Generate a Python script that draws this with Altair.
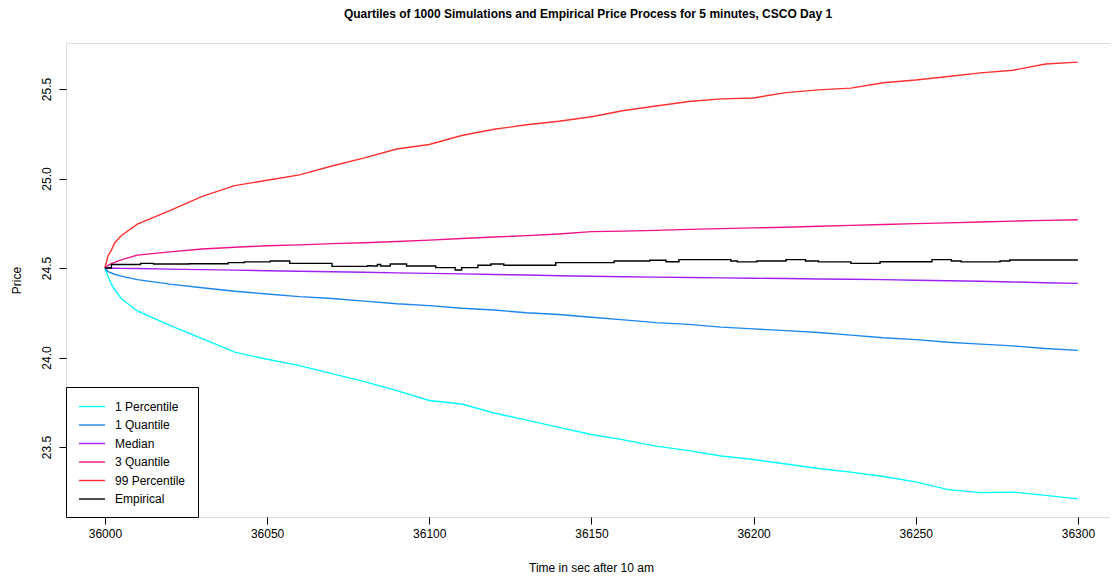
import altair as alt
import pandas as pd

# simulated quantile paths
times = [36000, 36001, 36002, 36003, 36005, 36010, 36020, 36030, 36040, 36050,
         36060, 36070, 36080, 36090, 36100, 36110, 36120, 36130, 36140, 36150,
         36160, 36170, 36180, 36190, 36200, 36210, 36220, 36230, 36240, 36250,
         36260, 36270, 36280, 36290, 36300]
p01 = [24.50, 24.45, 24.41, 24.38, 24.33, 24.26, 24.18, 24.105, 24.03, 23.99,
       23.955, 23.91, 23.865, 23.815, 23.76, 23.74, 23.69, 23.65, 23.61, 23.57,
       23.54, 23.505, 23.48, 23.45, 23.43, 23.405, 23.38, 23.36, 23.335, 23.305,
       23.262, 23.245, 23.248, 23.23, 23.21]
q1 = [24.50, 24.48, 24.472, 24.465, 24.455, 24.435, 24.41, 24.39, 24.37, 24.355,
      24.34, 24.33, 24.315, 24.30, 24.29, 24.275, 24.265, 24.25, 24.24, 24.225,
      24.21, 24.195, 24.185, 24.17, 24.16, 24.15, 24.14, 24.125, 24.11, 24.10,
      24.085, 24.075, 24.065, 24.05, 24.04]
med = [24.50, 24.50, 24.499, 24.499, 24.498, 24.497, 24.494, 24.491, 24.488, 24.485,
       24.482, 24.479, 24.476, 24.473, 24.470, 24.467, 24.464, 24.461, 24.457, 24.454,
       24.451, 24.449, 24.447, 24.445, 24.443, 24.441, 24.439, 24.437, 24.435, 24.432,
       24.429, 24.426, 24.422, 24.418, 24.414]
q3 = [24.50, 24.515, 24.525, 24.531, 24.545, 24.572, 24.59, 24.606, 24.616, 24.624,
      24.629, 24.636, 24.641, 24.648, 24.656, 24.665, 24.673, 24.681, 24.69, 24.703,
      24.706, 24.71, 24.716, 24.72, 24.724, 24.728, 24.733, 24.738, 24.743, 24.748,
      24.752, 24.757, 24.762, 24.766, 24.77]
p99 = [24.50, 24.57, 24.60, 24.64, 24.68, 24.745, 24.82, 24.90, 24.96, 24.99,
       25.02, 25.07, 25.115, 25.165, 25.19, 25.24, 25.275, 25.30, 25.32, 25.345,
       25.38, 25.405, 25.43, 25.445, 25.45, 25.48, 25.495, 25.505, 25.535, 25.55,
       25.57, 25.59, 25.605, 25.64, 25.65]

# empirical price path (step changes)
emp_t = [36000, 36002, 36011, 36015, 36026, 36038, 36043, 36051, 36057, 36070,
         36081, 36082, 36084, 36085, 36088, 36093, 36102, 36108, 36110, 36115,
         36119, 36123, 36139, 36157, 36168, 36173, 36177, 36193, 36195, 36201,
         36210, 36216, 36220, 36230, 36239, 36255, 36261, 36264, 36276, 36279, 36300]
emp_p = [24.50, 24.52, 24.526, 24.522, 24.524, 24.53, 24.534, 24.539, 24.526, 24.509,
         24.513, 24.511, 24.52, 24.511, 24.522, 24.511, 24.502, 24.489, 24.502, 24.515,
         24.522, 24.515, 24.53, 24.539, 24.543, 24.535, 24.547, 24.539, 24.534, 24.539,
         24.547, 24.539, 24.534, 24.526, 24.535, 24.547, 24.539, 24.534, 24.539, 24.545, 24.545]

names = ["1 Percentile", "1 Quantile", "Median", "3 Quantile", "99 Percentile", "Empirical"]
colors = ["#00FFFF", "#1C86EE", "#A020F0", "#EE1289", "#FF3030", "#000000"]
widths = [1.4, 1.4, 1.4, 1.4, 1.4, 2.6]

x_ticks = [36000, 36050, 36100, 36150, 36200, 36250, 36300]
y_ticks = [23.5, 24.0, 24.5, 25.0, 25.5]

rows = []
for nm, vals in zip(names[:5], [p01, q1, med, q3, p99]):
    for t, v in zip(times, vals):
        rows.append({"t": t, "price": v, "series": nm})
sim = pd.DataFrame(rows)
emp = pd.DataFrame({"t": emp_t, "price": emp_p, "series": "Empirical"})

FONT = "Liberation Sans"

legend = alt.Legend(
    orient="none", legendX=0, legendY=344, title=None,
    strokeColor="black", fillColor="white", padding=12, cornerRadius=0,
    labelFont=FONT, labelFontSize=12, labelColor="black", labelOffset=22,
    symbolType="M-1,0H3", symbolSize=169, rowPadding=4.5,
)

xenc = alt.X("t:Q", scale=alt.Scale(domain=[35988, 36309.9], nice=False, zero=False),
             axis=alt.Axis(values=x_ticks, format="d", title="Time in sec after 10 am",
                           grid=False, domain=False, tickSize=7, tickColor="black",
                           labelFont=FONT, labelFontSize=12, labelColor="black",
                           labelBaseline="alphabetic", labelPadding=13,
                           titleFont=FONT, titleFontSize=12, titleFontWeight="normal",
                           titleColor="black", titleBaseline="alphabetic",
                           titleY=54, titleX=525))
yenc = alt.Y("price:Q", scale=alt.Scale(domain=[23.109, 25.757], nice=False, zero=False),
             axis=alt.Axis(values=y_ticks, format=".1f", title="Price",
                           grid=False, domain=False, tickSize=7, tickColor="black",
                           labelFont=FONT, labelFontSize=12, labelColor="black",
                           labelAngle=-90, labelAlign="center", labelBaseline="alphabetic",
                           labelPadding=9,
                           titleFont=FONT, titleFontSize=12, titleFontWeight="normal",
                           titleColor="black", titleBaseline="alphabetic",
                           titleAngle=-90, titleX=-46, titleY=237))
cenc = alt.Color("series:N", scale=alt.Scale(domain=names, range=colors), legend=legend)
wenc = alt.StrokeWidth("series:N", scale=alt.Scale(domain=names, range=widths), legend=legend)

sim_layer = alt.Chart(sim).mark_line().encode(x=xenc, y=yenc, color=cenc, strokeWidth=wenc,
                                              detail="series:N")
emp_layer = alt.Chart(emp).mark_line(interpolate="step-after").encode(
    x=xenc, y=yenc, color=cenc, strokeWidth=wenc)

chart = alt.layer(sim_layer, emp_layer).properties(
    width=1044, height=474,
    title=alt.TitleParams(
        "Quartiles of 1000 Simulations and Empirical Price Process for 5 minutes, CSCO Day 1",
        font=FONT, fontSize=12, fontWeight="bold", color="black", anchor="middle",
        frame="group", baseline="alphabetic", offset=13),
    autosize="none",
    padding={"left": 58, "top": 35, "right": 0, "bottom": 60},
).configure_view(stroke="black", strokeWidth=1).configure(background="white")

chart.save("out.html", embed_options={"renderer": "svg", "actions": False})
